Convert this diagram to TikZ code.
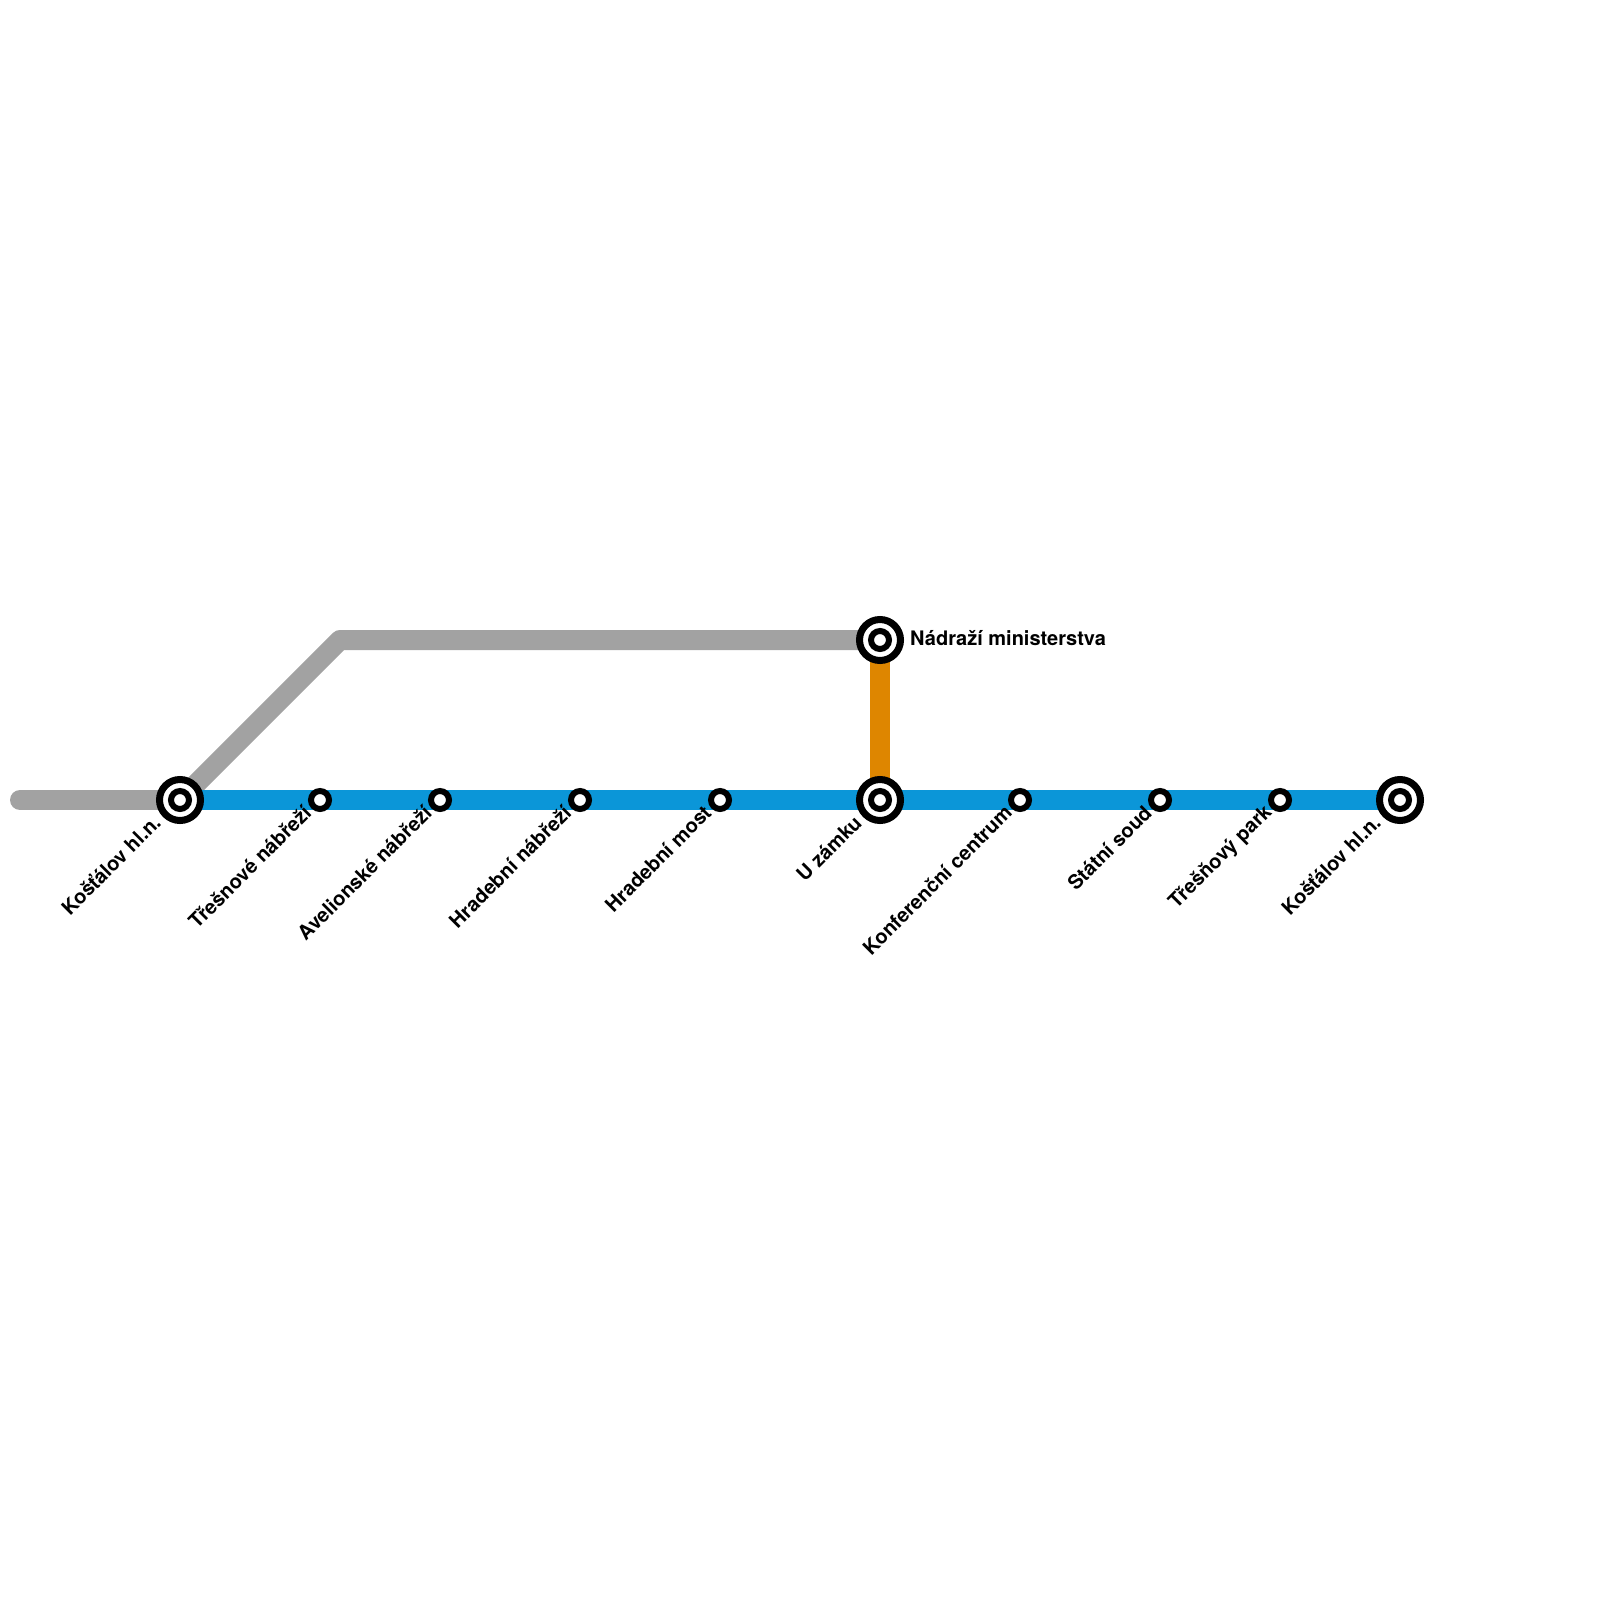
\documentclass[tikz,border=0pt]{standalone}
\usepackage{fontspec}
\setmainfont{TeX Gyre Heros}
\usetikzlibrary{backgrounds}
\definecolor{linegray}{HTML}{A2A2A2}
\definecolor{lineblue}{HTML}{0B96D8}
\definecolor{lineorange}{HTML}{DE8600}
\tikzset{
  x=1pt,y=-1pt,
  stopsmall/.style={circle,draw=black,fill=white,line width=6pt,minimum size=18pt,inner sep=0pt,outer sep=0pt},
  stopbig/.style={circle,draw=black,fill=white,line width=7pt,minimum size=41pt,inner sep=0pt,outer sep=0pt},
  trackline/.style={line width=20pt,line join=round},
  stoplabel/.style={font=\fontsize{20}{24}\selectfont\bfseries,text=black,inner sep=0pt},
  slant/.style={stoplabel,rotate=45,anchor=east}
}
\begin{document}
\begin{tikzpicture}
\useasboundingbox (0,0) rectangle (1600,1600);
\coordinate (west) at (20,800);
\coordinate (bend) at (340,640);
\node[stopbig] (kosA) at (180,800) {};
\node[stopsmall] (kosAi) at (180,800) {};
\node[stopsmall] (tresn) at (320,800) {};
\node[stopsmall] (avel) at (440,800) {};
\node[stopsmall] (hnab) at (580,800) {};
\node[stopsmall] (hmost) at (720,800) {};
\node[stopbig] (zamek) at (880,800) {};
\node[stopsmall] (zameki) at (880,800) {};
\node[stopsmall] (konf) at (1020,800) {};
\node[stopsmall] (soud) at (1160,800) {};
\node[stopsmall] (park) at (1280,800) {};
\node[stopbig] (kosB) at (1400,800) {};
\node[stopsmall] (kosBi) at (1400,800) {};
\node[stopbig] (nad) at (880,640) {};
\node[stopsmall] (nadi) at (880,640) {};
\begin{scope}[on background layer]
\fill[white] (0,0) rectangle (1600,1600);
\draw[trackline,linegray,line cap=round] (west) -- (kosA.center);
\draw[trackline,linegray] (kosA.center) -- (bend) -- (nad.center);
\draw[trackline,lineorange] (nad.center) -- (zamek.center);
\draw[trackline,lineblue] (kosA.center) -- (tresn.center) -- (avel.center) -- (hnab.center) -- (hmost.center) -- (zamek.center) -- (konf.center) -- (soud.center) -- (park.center) -- (kosB.center);
\end{scope}
\node[slant] (lkosA) at (156.5,818.5) {Košťálov hl.n.};
\node[slant] (ltresn) at (307.5,809) {Třešnové nábřeží};
\node[slant] (lavel) at (428,809) {Avelionské nábřeží};
\node[slant] (lhnab) at (567.5,809) {Hradební nábřeží};
\node[slant] (lhmost) at (707.5,809) {Hradební most};
\node[slant] (lzamek) at (858,819) {U zámku};
\node[slant] (lkonf) at (1008,809) {Konferenční centrum};
\node[slant] (lsoud) at (1148,809) {Státní soud};
\node[slant] (lpark) at (1269,809.5) {Třešňový park};
\node[slant] (lkosB) at (1376.5,818.5) {Košťálov hl.n.};
\node[stoplabel,anchor=west] (lnad) at (910,638) {Nádraží ministerstva};
\end{tikzpicture}
\end{document}
